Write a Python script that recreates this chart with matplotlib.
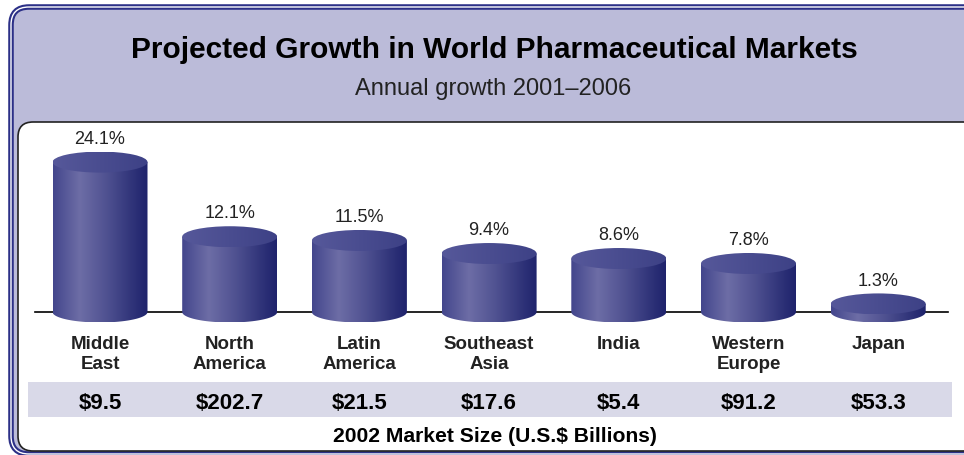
import numpy as np
import matplotlib
matplotlib.use('Agg')
import matplotlib.pyplot as plt
from matplotlib.patches import FancyBboxPatch, Rectangle, Ellipse, Polygon
from matplotlib.colors import LinearSegmentedColormap

# data
regions = ['Middle\nEast', 'North\nAmerica', 'Latin\nAmerica', 'Southeast\nAsia',
           'India', 'Western\nEurope', 'Japan']
growth = [24.1, 12.1, 11.5, 9.4, 8.6, 7.8, 1.3]
market_size = [9.5, 202.7, 21.5, 17.6, 5.4, 91.2, 53.3]

title = 'Projected Growth in World Pharmaceutical Markets'
subtitle = 'Annual growth 2001\u20132006'
footer = '2002 Market Size (U.S.$ Billions)'

W, H = 964, 456
NAVY = '#2c3087'
HEADER = '#bbbbd9'
BAND = '#d9d9e8'

body_cmap = LinearSegmentedColormap.from_list('body', [
    (0.00, '#43468c'), (0.28, '#6d6da6'), (0.55, '#515392'),
    (0.85, '#2e3278'), (1.00, '#1f236c')])
top_cmap = LinearSegmentedColormap.from_list('top', ['#56589a', '#4a4d90', '#3d4186'])

plt.rcParams['font.family'] = ['Liberation Sans', 'DejaVu Sans']

fig = plt.figure(figsize=(W / 100, H / 100), dpi=100)

# background / frame in pixel coordinates
bg = fig.add_axes([0, 0, 1, 1])
bg.set_xlim(0, W)
bg.set_ylim(H, 0)
bg.axis('off')

bg.add_patch(FancyBboxPatch((11 + 18, 8 + 18), 975 - 36, 447 - 36,
                            boxstyle='round,pad=18', fc=HEADER, ec=NAVY, lw=4.0))
bg.add_patch(FancyBboxPatch((11 + 18, 8 + 18), 975 - 36, 447 - 36,
                            boxstyle='round,pad=18', fc='none', ec='white', lw=1.0))
bg.add_patch(FancyBboxPatch((18 + 15, 123 + 15), 960 - 30, 329 - 30,
                            boxstyle='round,pad=15', fc='white', ec='#222222', lw=1.2))
bg.add_patch(Rectangle((28, 383), 924, 35, fc=BAND, ec='none'))

bg.text(494, 50, title, ha='center', va='center', fontsize=21.5,
        fontweight='bold', color='black')
bg.text(493, 89, subtitle, ha='center', va='center', fontsize=17,
        color='#222222')
bg.text(495, 437, footer, ha='center', va='center', fontsize=15.2,
        fontweight='bold', color='black')

# chart axes: category i -> pixel x0 + i*dx, value 0 -> pixel y0, dy px per %
ax_l, ax_r, ax_t, ax_b = 20, 960, 125, 450
x0, dx = 100, 129.7
y0, dy = 313, 6.22
ax = fig.add_axes([ax_l / W, 1 - ax_b / H, (ax_r - ax_l) / W, (ax_b - ax_t) / H])
ax.patch.set_alpha(0)
ax.axis('off')
xlim = ((ax_l - x0) / dx, (ax_r - x0) / dx)
ylim = (-(ax_b - y0) / dy, (y0 - ax_t) / dy)

cw = 95 / dx       # cylinder width in data units
eh = 21 / dy       # ellipse height in data units

ax.plot([(35 - x0) / dx, (948 - x0) / dx], [0, 0], color='black', lw=1.2, zorder=1)

grad = np.linspace(0, 1, 256).reshape(1, -1)
t = np.linspace(np.pi, 2 * np.pi, 60)
for i, (name, g, m) in enumerate(zip(regions, growth, market_size)):
    xl, xr = i - cw / 2, i + cw / 2
    arc = np.column_stack([i - cw / 2 * np.cos(t - np.pi), eh / 2 * np.sin(t)])
    pts = np.vstack([[xl, g], arc, [xr, g]])
    clip = Polygon(pts, closed=True, fc='none', ec='none')
    ax.add_patch(clip)
    im = ax.imshow(grad, cmap=body_cmap, extent=(xl, xr, -eh / 2, g),
                   aspect='auto', zorder=2, interpolation='bicubic')
    im.set_clip_path(clip)
    top = Ellipse((i, g), cw, eh, fc='none', ec='none', zorder=3)
    ax.add_patch(top)
    im2 = ax.imshow(grad, cmap=top_cmap, extent=(xl, xr, g - eh / 2, g + eh / 2),
                    aspect='auto', zorder=3, interpolation='bicubic')
    im2.set_clip_path(top)

    ax.annotate(f'{g}%', xy=(i, g + eh / 2), xytext=(0, 3.5),
                textcoords='offset points', ha='center', va='bottom',
                fontsize=13, color='#222222')
    ax.annotate(name, xy=(i, 0), xytext=(0, -16.5), textcoords='offset points',
                ha='center', va='top', fontsize=13.5, fontweight='bold',
                color='#222222', linespacing=1.2)
    ax.annotate(f'${m}', xy=(i, 0), xytext=(0, -65), textcoords='offset points',
                ha='center', va='center', fontsize=16, fontweight='bold',
                color='black')

ax.set_xlim(*xlim)
ax.set_ylim(*ylim)

fig.savefig('out.png', dpi=100)
